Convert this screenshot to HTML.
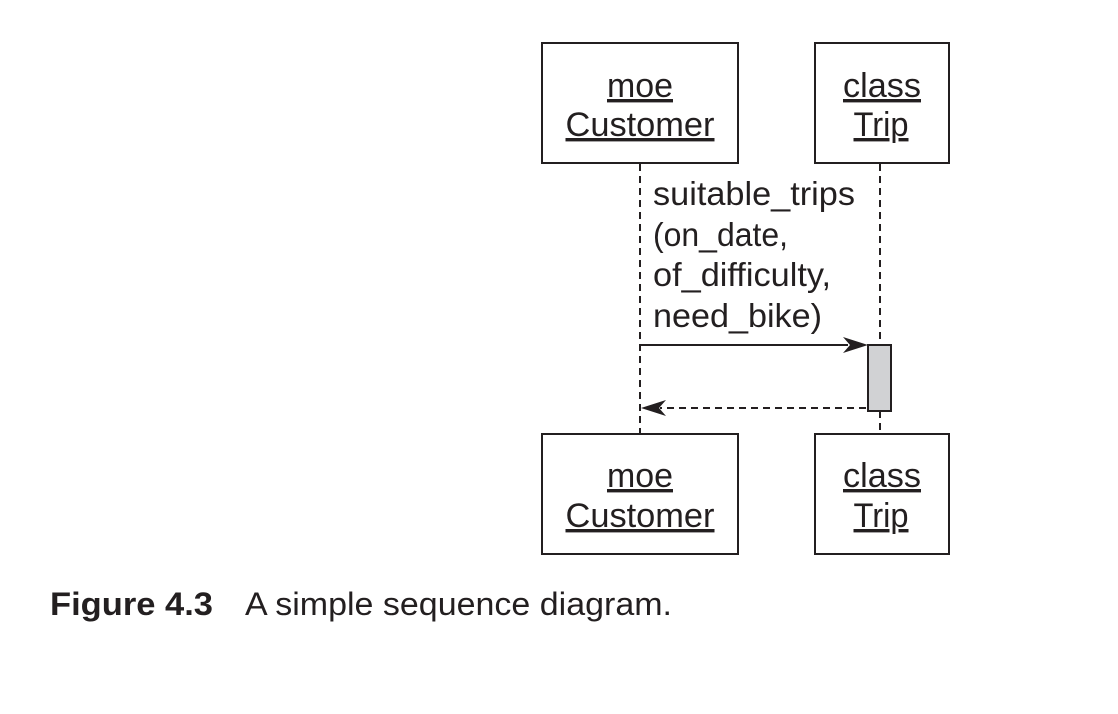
<!DOCTYPE html>
<html><head><meta charset="utf-8"><style>html,body{margin:0;padding:0;background:#fff}svg{display:block}</style></head>
<body>
<svg width="1118" height="714" viewBox="0 0 1118 714" xmlns="http://www.w3.org/2000/svg" font-family="Liberation Sans, sans-serif" fill="#231f20">
<g fill="#fff" stroke="#231f20" stroke-width="2">
<rect x="542" y="43" width="196" height="120"/>
<rect x="815" y="43" width="134" height="120"/>
<rect x="542" y="434" width="196" height="120"/>
<rect x="815" y="434" width="134" height="120"/>
</g>
<g stroke="#231f20" stroke-width="2" stroke-dasharray="7,5">
<line x1="640" y1="164" x2="640" y2="433"/>
<line x1="880" y1="164" x2="880" y2="344"/>
<line x1="880" y1="411" x2="880" y2="433"/>
<line x1="866" y1="408" x2="660" y2="408"/>
</g>
<line x1="640" y1="345" x2="848" y2="345" stroke="#231f20" stroke-width="2"/>
<path d="M868 345 L843 337 L850 345 L843 353 Z"/>
<path d="M641 408 L666 400 L659 408 L666 416 Z"/>
<rect x="868" y="345" width="23" height="66" fill="#d1d2d4" stroke="#231f20" stroke-width="2"/>
<g font-size="34" text-anchor="middle" text-decoration="underline">
<text x="640" y="97" textLength="66" lengthAdjust="spacingAndGlyphs">moe</text>
<text x="640" y="136" textLength="149" lengthAdjust="spacingAndGlyphs">Customer</text>
<text x="882" y="97" textLength="78" lengthAdjust="spacingAndGlyphs">class</text>
<text x="881" y="136" textLength="55" lengthAdjust="spacingAndGlyphs">Trip</text>
<text x="640" y="487" textLength="66" lengthAdjust="spacingAndGlyphs">moe</text>
<text x="640" y="527" textLength="149" lengthAdjust="spacingAndGlyphs">Customer</text>
<text x="882" y="487" textLength="78" lengthAdjust="spacingAndGlyphs">class</text>
<text x="881" y="527" textLength="55" lengthAdjust="spacingAndGlyphs">Trip</text>
</g>
<g font-size="33">
<text x="653" y="205" textLength="202" lengthAdjust="spacingAndGlyphs">suitable_trips</text>
<text x="653" y="246" textLength="135" lengthAdjust="spacingAndGlyphs">(on_date,</text>
<text x="653" y="286" textLength="178" lengthAdjust="spacingAndGlyphs">of_difficulty,</text>
<text x="653" y="327" textLength="169" lengthAdjust="spacingAndGlyphs">need_bike)</text>
</g>
<text x="50" y="615" font-size="32" font-weight="bold" fill="#231f20" textLength="163" lengthAdjust="spacingAndGlyphs">Figure 4.3</text>
<text x="245" y="615" font-size="32" textLength="427" lengthAdjust="spacingAndGlyphs">A simple sequence diagram.</text>
</svg>
</body></html>
